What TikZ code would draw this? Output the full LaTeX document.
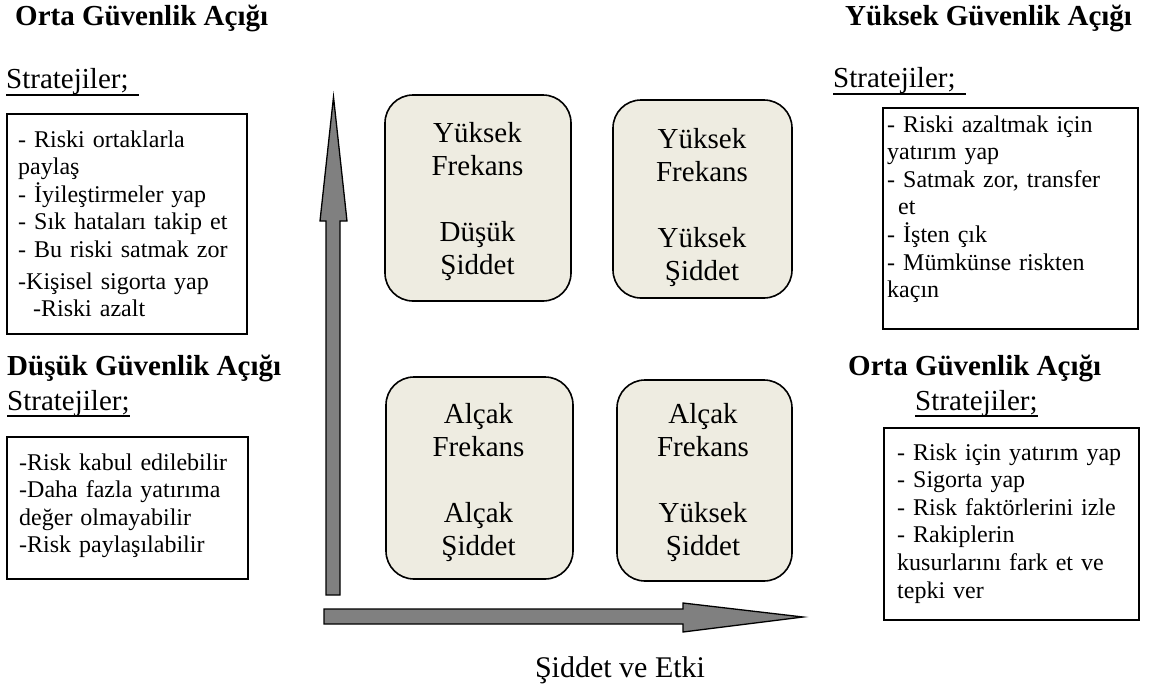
\documentclass[tikz,border=0pt]{standalone}
\usepackage{fontspec}
\setmainfont{Liberation Serif}
\definecolor{cellfill}{HTML}{EEECE1}
\definecolor{axisgray}{HTML}{808080}
\begin{document}
\begin{tikzpicture}[x=1pt,y=-1pt,
  title/.style={font=\fontsize{29}{33}\selectfont\bfseries, anchor=base west, inner sep=0pt},
  strat/.style={font=\fontsize{29}{33}\selectfont, anchor=base west, inner sep=0pt},
  uline/.style={line width=1.4pt},
  listbox/.style={draw, line width=1.6pt, anchor=north west, inner sep=0pt},
  listtext/.style={font=\fontsize{24}{27.6}\selectfont, anchor=base west, inner sep=0pt, text width=#1, align=left},
  cell/.style={draw, line width=1.6pt, fill=cellfill, rounded corners=28pt, inner sep=0pt},
  celltext/.style={font=\fontsize{29}{33}\selectfont, anchor=base, inner sep=0pt, text width=170pt, align=center},
  axis/.style={draw, line width=1.3pt, fill=axisgray, line join=miter}]
\useasboundingbox (0,0) rectangle (1149,691);

% axes
\draw[axis] (326,595) -- (326,221) -- (320,221) -- (333.5,97) -- (347,221) -- (340,221) -- (340,595) -- cycle;
\draw[axis] (324,609) -- (683,609) -- (683,603) -- (803,617) -- (683,632) -- (683,624) -- (324,624) -- cycle;

% four quadrant cells
\node[cell, minimum width=186pt, minimum height=206pt] (c1) at (478,198) {};
\node[celltext] (c1t) at (477.5,142) {Yüksek\\ Frekans\\[33pt] Düşük\\ Şiddet};
\node[cell, minimum width=179pt, minimum height=198pt] (c2) at (702.5,199) {};
\node[celltext] (c2t) at (702,148) {Yüksek\\ Frekans\\[33pt] Yüksek\\ Şiddet};
\node[cell, minimum width=187pt, minimum height=202pt] (c3) at (479.5,478) {};
\node[celltext] (c3t) at (478.5,423) {Alçak\\ Frekans\\[33pt] Alçak\\ Şiddet};
\node[cell, minimum width=175pt, minimum height=201pt] (c4) at (704.5,480.5) {};
\node[celltext] (c4t) at (703,423) {Alçak\\ Frekans\\[33pt] Yüksek\\ Şiddet};

\node[font=\fontsize{30}{34}\selectfont, anchor=base, inner sep=0pt] (xlab) at (620,677) {Şiddet ve Etki};

% upper left
\node[title] (t1) at (15,25) {Orta Güvenlik Açığı};
\node[strat] (s1) at (6,88) {Stratejiler;};
\draw[uline] ([yshift=-7pt]s1.base west) -- ([xshift=10pt,yshift=-7pt]s1.base east);
\node[listbox, minimum width=240pt, minimum height=220pt] (b1) at (6,113) {};
\node[listtext=230pt] (l1) at (18,147) {- Riski ortaklarla\\ paylaş\\ - İyileştirmeler yap\\ - Sık hataları takip et\\ - Bu riski satmak zor\\[4pt] -Kişisel sigorta yap\\ \hspace*{15pt}-Riski azalt};

% lower left
\node[title] (t2) at (7,375) {Düşük Güvenlik Açığı};
\node[strat] (s2) at (7,410) {Stratejiler;};
\draw[uline] ([yshift=-6pt]s2.base west) -- ([yshift=-6pt]s2.base east);
\node[listbox, minimum width=241pt, minimum height=142pt] (b2) at (6,436) {};
\node[listtext=230pt] (l2) at (19,470) {-Risk kabul edilebilir\\ -Daha fazla yatırıma\\ değer olmayabilir\\ -Risk paylaşılabilir};

% upper right
\node[title] (t3) at (845,25) {Yüksek Güvenlik Açığı};
\node[strat] (s3) at (833,87) {Stratejiler;};
\draw[uline] ([yshift=-7pt]s3.base west) -- ([xshift=10pt,yshift=-7pt]s3.base east);
\node[listbox, minimum width=255pt, minimum height=221pt] (b3) at (882,107) {};
\node[listtext=245pt] (l3) at (887,132) {- Riski azaltmak için\\ yatırım yap\\ - Satmak zor, transfer\\ \hspace*{11pt}et\\ - İşten çık\\ - Mümkünse riskten\\ kaçın};

% lower right
\node[title] (t4) at (848,375) {Orta Güvenlik Açığı};
\node[strat] (s4) at (915,410) {Stratejiler;};
\draw[uline] ([yshift=-6pt]s4.base west) -- ([yshift=-6pt]s4.base east);
\node[listbox, minimum width=255pt, minimum height=192pt] (b4) at (883,427) {};
\node[listtext=245pt] (l4) at (897,460) {- Risk için yatırım yap\\ - Sigorta yap\\ - Risk faktörlerini izle\\ - Rakiplerin\\ kusurlarını fark et ve\\ tepki ver};
\end{tikzpicture}
\end{document}
